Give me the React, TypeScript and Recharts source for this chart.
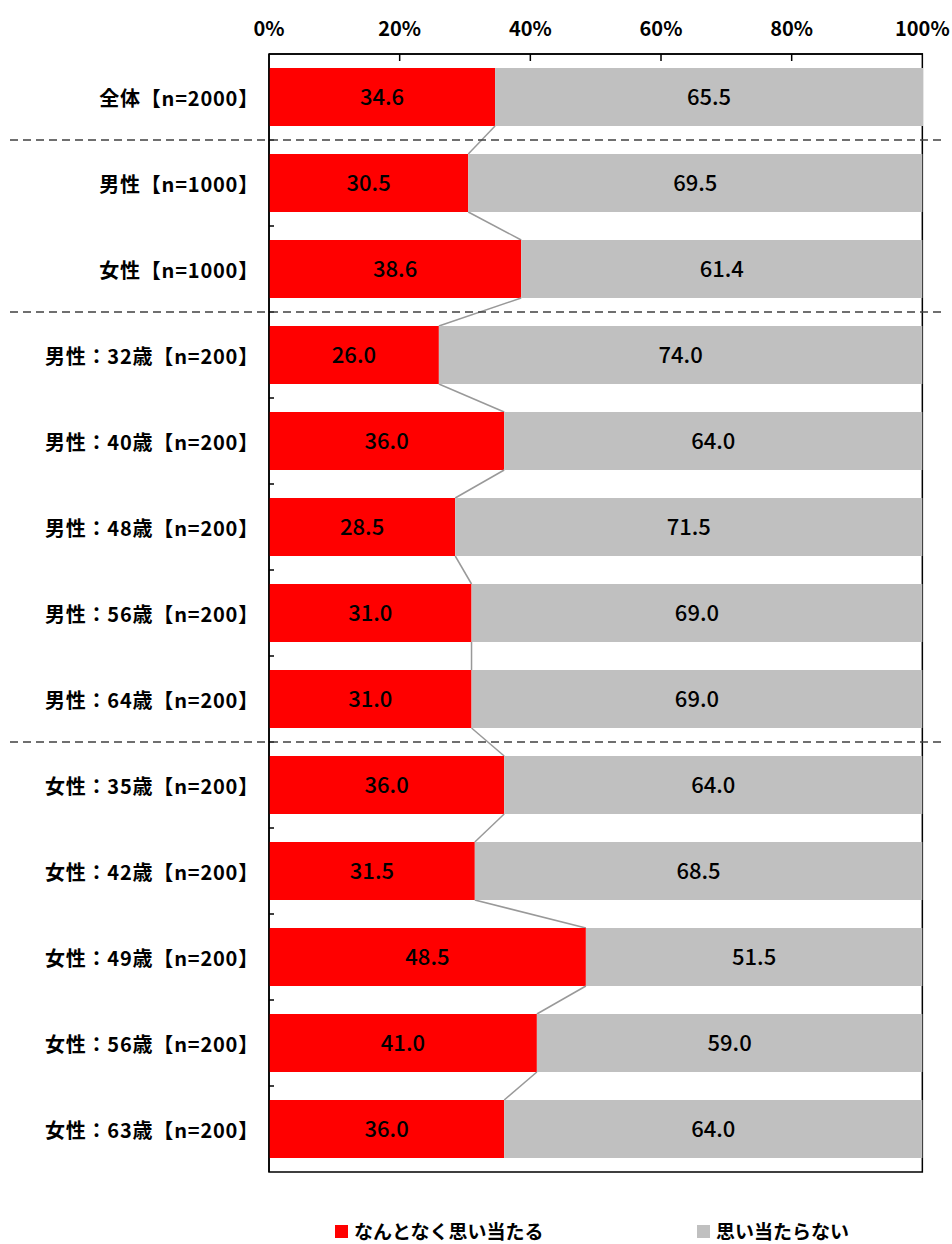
import { Bar, BarChart, LabelList, Legend, ReferenceArea, XAxis, YAxis } from "recharts";

const categories = [
  "全体【n=2000】",
  "男性【n=1000】",
  "女性【n=1000】",
  "男性：32歳【n=200】",
  "男性：40歳【n=200】",
  "男性：48歳【n=200】",
  "男性：56歳【n=200】",
  "男性：64歳【n=200】",
  "女性：35歳【n=200】",
  "女性：42歳【n=200】",
  "女性：49歳【n=200】",
  "女性：56歳【n=200】",
  "女性：63歳【n=200】",
];
const yesValues = [34.6, 30.5, 38.6, 26.0, 36.0, 28.5, 31.0, 31.0, 36.0, 31.5, 48.5, 41.0, 36.0];
const noValues = [65.5, 69.5, 61.4, 74.0, 64.0, 71.5, 69.0, 69.0, 64.0, 68.5, 51.5, 59.0, 64.0];
const xTicks = [0, 20, 40, 60, 80, 100];
// groups start here -> dashed separator above
const groupStarts = [1, 3, 8];
const seriesNames = ["なんとなく思い当たる", "思い当たらない"];

const COLORS = { yes: "#FF0000", no: "#C0C0C0", connector: "#999999" };
const FONT = "'Noto Sans CJK JP', sans-serif";

const W = 952;
const H = 1244;
const M = { top: 0, right: 29, bottom: 72, left: 0 };
const X_AXIS_H = 54;
const Y_AXIS_W = 269;
const PLOT_TOP = M.top + X_AXIS_H;
const PLOT_H = H - M.bottom - PLOT_TOP;
const PLOT_LEFT = Y_AXIS_W;
const STEP = PLOT_H / categories.length;

const data = categories.map((name, i) => ({ name, yes: yesValues[i], no: noValues[i] }));

function XTick(props: any) {
  const { x, payload } = props;
  return (
    <g>
      <text x={x} y={27} textAnchor="middle" dominantBaseline="central" fontFamily={FONT} fontWeight={700} fontSize={20} fill="#000">
        {`${payload.value}%`}
      </text>
      {payload.value > 0 && payload.value < 100 && <line x1={x} x2={x} y1={PLOT_TOP} y2={PLOT_TOP + 7} stroke="#000" strokeWidth={1.5} />}
    </g>
  );
}

function YTick(props: any) {
  const { y, payload, index } = props;
  const boundary = y + STEP / 2;
  const sepY = y - STEP / 2;
  return (
    <g>
      <text x={259} y={y} textAnchor="end" dominantBaseline="central" fontFamily={FONT} fontWeight={700} fontSize={20} letterSpacing={0.8} fill="#000">
        {payload.value}
      </text>
      {index < categories.length - 1 && <line x1={PLOT_LEFT} x2={PLOT_LEFT + 5} y1={boundary} y2={boundary} stroke="#000" strokeWidth={1.5} />}
      {groupStarts.includes(index) && (
        <line x1={10} x2={942} y1={sepY} y2={sepY} stroke="#404040" strokeWidth={1.3} strokeDasharray="8,5" />
      )}
    </g>
  );
}

function YesBar(props: any) {
  const { x, y, width, height, index } = props;
  const next = index < yesValues.length - 1 ? yesValues[index + 1] : null;
  const perUnit = width / yesValues[index];
  return (
    <g>
      <rect x={x} y={y} width={width} height={height} fill={COLORS.yes} />
      {next !== null && (
        <line
          x1={x + width}
          y1={y + height}
          x2={x + next * perUnit}
          y2={y + STEP}
          stroke={COLORS.connector}
          strokeWidth={1.5}
        />
      )}
    </g>
  );
}

function renderLegend() {
  const colors = [COLORS.yes, COLORS.no];
  const lefts = [335, 697];
  return (
    <div style={{ position: "relative", height: 24, fontFamily: FONT, fontWeight: 700, fontSize: 19, lineHeight: "24px", color: "#000" }}>
      {seriesNames.map((n, i) => (
        <div key={n} style={{ position: "absolute", left: lefts[i], top: 0, display: "flex", alignItems: "center", height: 24 }}>
          <span style={{ display: "inline-block", width: 13, height: 13, background: colors[i], marginRight: 6 }} />
          <span>{n}</span>
        </div>
      ))}
    </div>
  );
}

export default function App() {
  return (
    <div style={{ position: "absolute", left: 0, top: 0, width: W, height: H, background: "#fff" }}>
      <BarChart width={W} height={H} data={data} layout="vertical" margin={M} barSize={58}>
        <XAxis
          type="number"
          domain={[0, 100]}
          ticks={xTicks}
          orientation="top"
          height={X_AXIS_H}
          axisLine={{ stroke: "#000", strokeWidth: 1.5 }}
          tickLine={false}
          tick={<XTick />}
          interval={0}
        />
        <YAxis
          type="category"
          dataKey="name"
          width={Y_AXIS_W}
          axisLine={{ stroke: "#000", strokeWidth: 1.5 }}
          tickLine={false}
          tick={<YTick />}
          interval={0}
        />
        <ReferenceArea x1={0} x2={100} fill="none" stroke="#000" strokeWidth={1.5} fillOpacity={0} />
        <Bar dataKey="yes" stackId="a" fill={COLORS.yes} shape={<YesBar />} isAnimationActive={false}>
          <LabelList dataKey="yes" position="center" formatter={(v: any) => Number(v).toFixed(1)} fill="#000" fontFamily={FONT} fontSize={22} fontWeight={500} />
        </Bar>
        <Bar dataKey="no" stackId="a" fill={COLORS.no} isAnimationActive={false}>
          <LabelList dataKey="no" position="center" formatter={(v: any) => Number(v).toFixed(1)} fill="#000" fontFamily={FONT} fontSize={22} fontWeight={500} />
        </Bar>
        <Legend
          layout="horizontal"
          verticalAlign="middle"
          align="center"
          content={renderLegend}
          wrapperStyle={{ left: 0, top: 1219, width: W, height: 24 }}
        />
      </BarChart>
    </div>
  );
}
